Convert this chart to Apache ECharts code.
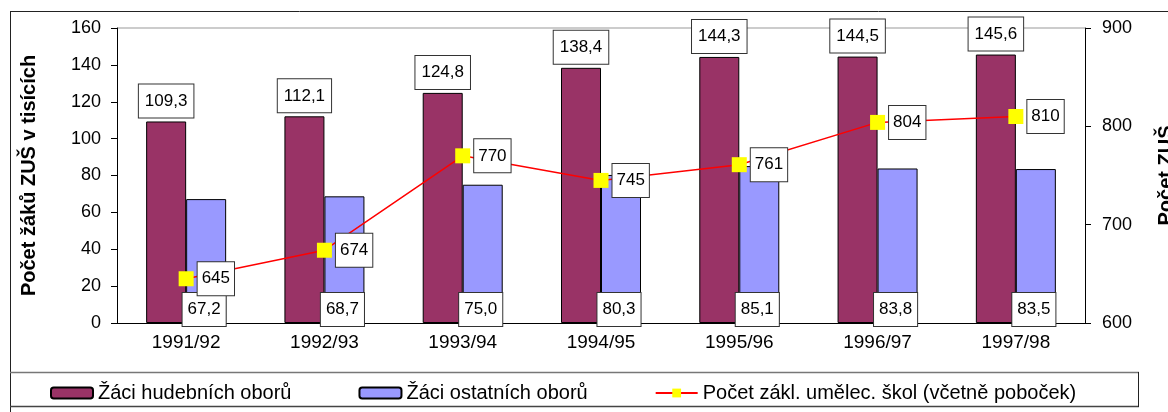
<!DOCTYPE html>
<html>
<head>
<meta charset="utf-8">
<script src="https://cdn.jsdelivr.net/npm/echarts@6/dist/echarts.min.js"></script>
<style>
  html, body { margin: 0; padding: 0; background: #fff; }
  #main { width: 1168px; height: 412px; }
</style>
</head>
<body>
<div id="main"></div>
<script>
var years = ['1991/92', '1992/93', '1993/94', '1994/95', '1995/96', '1996/97', '1997/98'];
var hudebni = [109.3, 112.1, 124.8, 138.4, 144.3, 144.5, 145.6];
var ostatni = [67.2, 68.7, 75.0, 80.3, 85.1, 83.8, 83.5];
var skoly = [645, 674, 770, 745, 761, 804, 810];

var font = 'Liberation Sans, Arial, sans-serif';
var chart = echarts.init(document.getElementById('main'));

// czech decimal comma
function czFmt(p) { return p.value.toFixed(1).replace('.', ','); }

var boxLabel = {
  show: true,
  color: '#000',
  fontFamily: font,
  fontSize: 17,
  lineHeight: 17,
  backgroundColor: '#fff',
  borderColor: '#333',
  borderWidth: 1,
  padding: [8, 6, 8, 6]
};

chart.setOption({
  animation: false,
  textStyle: { fontFamily: font },
  grid: { left: 117, right: 83, top: 28, bottom: 89, outerBoundsMode: 'none', containLabel: false },
  legend: {
    left: 45,
    top: 378,
    itemWidth: 42,
    itemHeight: 11,
    itemGap: 67,
    textStyle: { fontSize: 20, color: '#000', fontFamily: font },
    data: ['Žáci hudebních oborů', 'Žáci ostatních oborů', 'Počet zákl. umělec. škol (včetně poboček)']
  },
  xAxis: {
    type: 'category',
    data: years,
    axisLine: { lineStyle: { color: '#000' } },
    axisTick: { length: 7, lineStyle: { color: '#000' } },
    axisLabel: { color: '#000', fontSize: 19, margin: 10, fontFamily: font }
  },
  yAxis: [{
    type: 'value',
    min: 0, max: 160, interval: 20,
    name: 'Počet žáků ZUŠ v tisících',
    nameLocation: 'middle',
    nameGap: 78,
    nameTextStyle: { fontSize: 20, fontWeight: 'bold', color: '#000', fontFamily: font },
    axisLine: { show: true, lineStyle: { color: '#000' } },
    axisTick: { show: true, length: 6, lineStyle: { color: '#000' } },
    axisLabel: { color: '#000', fontSize: 18, margin: 16, fontFamily: font },
    splitLine: { show: false }
  }, {
    type: 'value',
    min: 600, max: 900, interval: 100,
    position: 'right',
    name: 'Počet ZUŠ',
    nameLocation: 'middle',
    nameGap: 71,
    nameRotate: 90,
    nameTextStyle: { fontSize: 20, fontWeight: 'bold', color: '#000', fontFamily: font },
    axisLine: { show: true, lineStyle: { color: '#000' } },
    axisTick: { show: true, length: 6, lineStyle: { color: '#000' } },
    axisLabel: { color: '#000', fontSize: 18, margin: 17, fontFamily: font },
    splitLine: { show: false }
  }],
  series: [{
    name: 'Žáci hudebních oborů',
    type: 'bar',
    data: hudebni,
    barWidth: 40,
    barGap: '0%',
    itemStyle: { color: '#993366', borderColor: '#000', borderWidth: 1 },
    label: Object.assign({}, boxLabel, { position: 'top', distance: 4, formatter: czFmt })
  }, {
    name: 'Žáci ostatních oborů',
    type: 'bar',
    data: ostatni,
    barWidth: 40,
    barGap: '0%',
    itemStyle: { color: '#9999FF', borderColor: '#000', borderWidth: 1 },
    label: Object.assign({}, boxLabel, { position: 'insideBottom', distance: 0, offset: [-2, 3], padding: [8, 5, 8, 5], formatter: czFmt })
  }, {
    name: 'Počet zákl. umělec. škol (včetně poboček)',
    type: 'line',
    yAxisIndex: 1,
    data: skoly,
    symbol: 'rect',
    symbolSize: 15,
    itemStyle: { color: '#FFFF00' },
    lineStyle: { color: '#FF0000', width: 1.5 },
    label: Object.assign({}, boxLabel, { position: 'right', distance: 4, padding: [8, 4, 8, 4] }),
    z: 5
  }],
  graphic: [
    { type: 'line', shape: { x1: 117, y1: 28, x2: 1085, y2: 28 }, style: { stroke: '#999', lineWidth: 1 }, z: -1 },
    { type: 'line', shape: { x1: 10.5, y1: 11, x2: 10.5, y2: 412 }, style: { stroke: '#222', lineWidth: 1 } },
    { type: 'line', shape: { x1: 10, y1: 11.5, x2: 1168, y2: 11.5 }, style: { stroke: '#222', lineWidth: 1 } },
    { type: 'line', shape: { x1: 10, y1: 372.5, x2: 1139, y2: 372.5 }, style: { stroke: '#777', lineWidth: 1.5 } },
    { type: 'line', shape: { x1: 10, y1: 406.5, x2: 1139, y2: 406.5 }, style: { stroke: '#444', lineWidth: 1.5 } },
    { type: 'line', shape: { x1: 1138.5, y1: 372, x2: 1138.5, y2: 407 }, style: { stroke: '#222', lineWidth: 1 } }
  ]
});
</script>
</body>
</html>
